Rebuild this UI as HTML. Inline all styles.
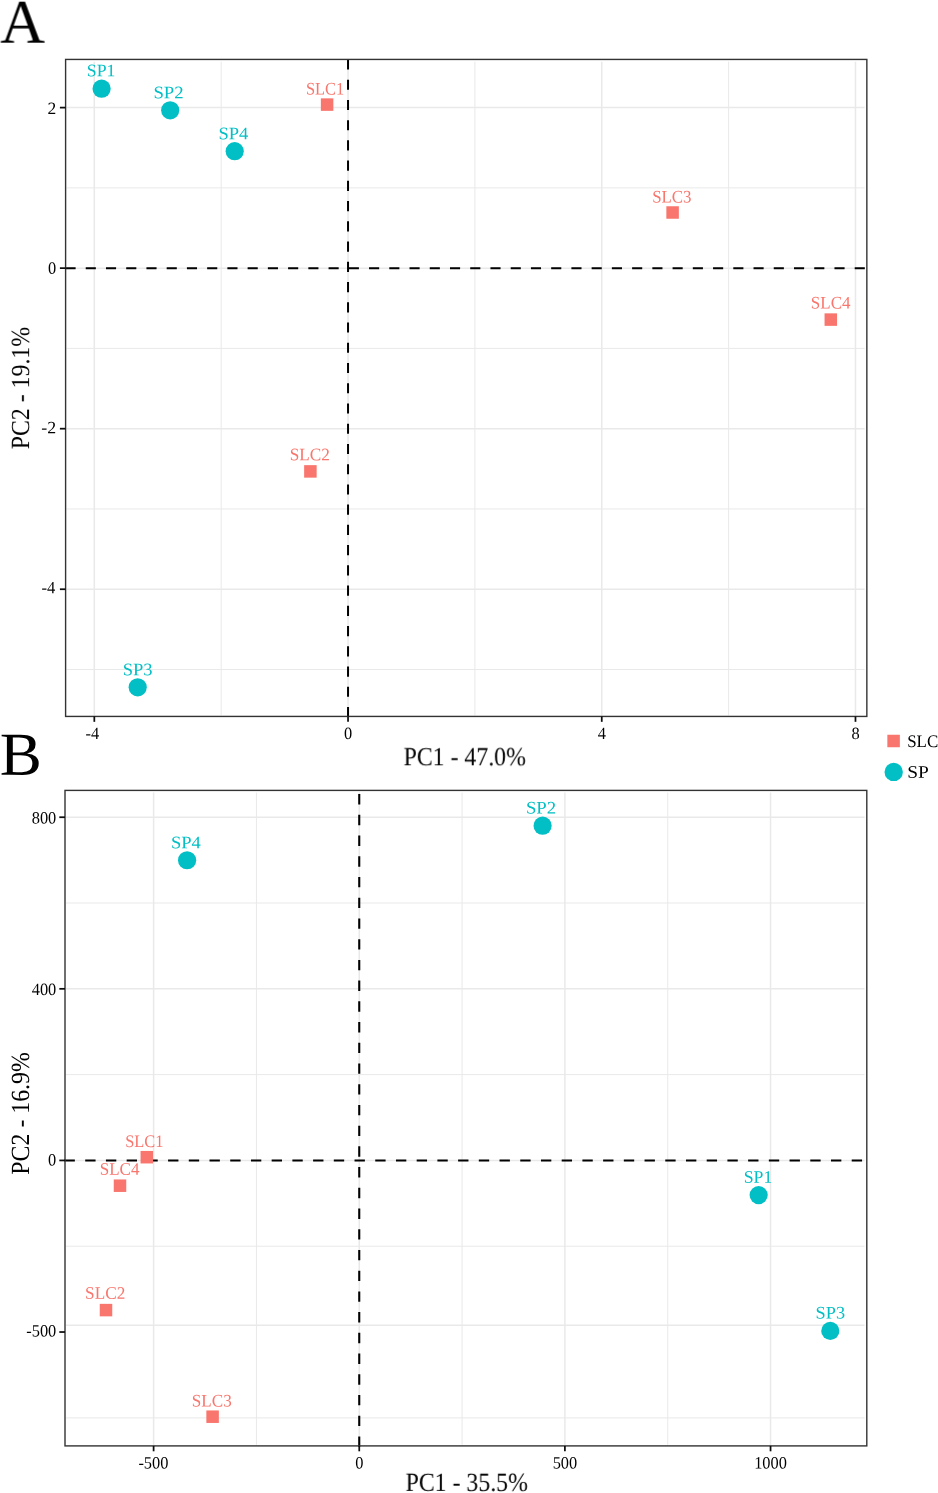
<!DOCTYPE html>
<html lang="en"><head><meta charset="utf-8"><title>PCA score plots</title>
<style>html,body{margin:0;padding:0;background:#fff}svg{display:block}text{font-family:"Liberation Serif", serif;text-rendering:geometricPrecision}</style></head><body>
<svg width="938" height="1493" viewBox="0 0 938 1493">
<rect width="938" height="1493" fill="#fff"/>
<g opacity="0.999">
<line x1="221.18" x2="221.18" y1="61.63" y2="715.43" stroke="#E9E9E9" stroke-width="1.0"/>
<line x1="474.90" x2="474.90" y1="61.63" y2="715.43" stroke="#E9E9E9" stroke-width="1.0"/>
<line x1="728.62" x2="728.62" y1="61.63" y2="715.43" stroke="#E9E9E9" stroke-width="1.0"/>
<line x1="66.60" x2="864.65" y1="187.88" y2="187.88" stroke="#E9E9E9" stroke-width="1.0"/>
<line x1="66.60" x2="864.65" y1="348.42" y2="348.42" stroke="#E9E9E9" stroke-width="1.0"/>
<line x1="66.60" x2="864.65" y1="508.96" y2="508.96" stroke="#E9E9E9" stroke-width="1.0"/>
<line x1="66.60" x2="864.65" y1="669.50" y2="669.50" stroke="#E9E9E9" stroke-width="1.0"/>
<line x1="94.32" x2="94.32" y1="61.63" y2="715.43" stroke="#E9E9E9" stroke-width="1.5"/>
<line x1="348.04" x2="348.04" y1="61.63" y2="715.43" stroke="#E9E9E9" stroke-width="1.5"/>
<line x1="601.76" x2="601.76" y1="61.63" y2="715.43" stroke="#E9E9E9" stroke-width="1.5"/>
<line x1="855.48" x2="855.48" y1="61.63" y2="715.43" stroke="#E9E9E9" stroke-width="1.5"/>
<line x1="66.60" x2="864.65" y1="107.61" y2="107.61" stroke="#E9E9E9" stroke-width="1.5"/>
<line x1="66.60" x2="864.65" y1="268.15" y2="268.15" stroke="#E9E9E9" stroke-width="1.5"/>
<line x1="66.60" x2="864.65" y1="428.69" y2="428.69" stroke="#E9E9E9" stroke-width="1.5"/>
<line x1="66.60" x2="864.65" y1="589.23" y2="589.23" stroke="#E9E9E9" stroke-width="1.5"/>
<path d="M65.50 268.15H866.85" stroke="#000" stroke-width="2" stroke-dasharray="10.118 10.118" fill="none"/>
<path d="M348.04 59.43V716.43" stroke="#000" stroke-width="2" stroke-dasharray="10.118 10.118" fill="none"/>
<rect x="65.60" y="59.43" width="801.25" height="657.00" fill="none" stroke="#333333" stroke-width="1.4"/>
<line x1="59.90" x2="65.60" y1="107.61" y2="107.61" stroke="#0d0d0d" stroke-width="1.75"/>
<text transform="translate(56.15 114.00) rotate(0.03) scale(1.010 1)" font-size="17.30" fill="#000" text-anchor="end">2</text>
<line x1="59.90" x2="65.60" y1="268.15" y2="268.15" stroke="#0d0d0d" stroke-width="1.75"/>
<text transform="translate(56.30 273.85) rotate(0.03) scale(0.947 1)" font-size="17.30" fill="#000" text-anchor="end">0</text>
<line x1="59.90" x2="65.60" y1="428.69" y2="428.69" stroke="#0d0d0d" stroke-width="1.75"/>
<text transform="translate(56.05 433.20) rotate(0.03) scale(1.030 1)" font-size="17.30" fill="#000" text-anchor="end">-2</text>
<line x1="59.90" x2="65.60" y1="589.23" y2="589.23" stroke="#0d0d0d" stroke-width="1.75"/>
<text transform="translate(55.30 593.30) rotate(0.03) scale(0.957 1)" font-size="17.30" fill="#000" text-anchor="end">-4</text>
<line x1="94.32" x2="94.32" y1="716.43" y2="721.83" stroke="#0d0d0d" stroke-width="1.75"/>
<text transform="translate(92.32 738.90) rotate(0.03) scale(0.947 1)" font-size="17.30" fill="#000" text-anchor="middle">-4</text>
<line x1="348.04" x2="348.04" y1="716.43" y2="721.83" stroke="#0d0d0d" stroke-width="1.75"/>
<text transform="translate(348.04 738.90) rotate(0.03) scale(0.947 1)" font-size="17.30" fill="#000" text-anchor="middle">0</text>
<line x1="601.76" x2="601.76" y1="716.43" y2="721.83" stroke="#0d0d0d" stroke-width="1.75"/>
<text transform="translate(601.76 738.90) rotate(0.03) scale(0.947 1)" font-size="17.30" fill="#000" text-anchor="middle">4</text>
<line x1="855.48" x2="855.48" y1="716.43" y2="721.83" stroke="#0d0d0d" stroke-width="1.75"/>
<text transform="translate(855.48 738.90) rotate(0.03) scale(0.947 1)" font-size="17.30" fill="#000" text-anchor="middle">8</text>
<circle cx="101.60" cy="88.70" r="9.10" fill="#00BFC4"/>
<text transform="translate(101.12 76.20) rotate(0.03) scale(1.008 1)" font-size="17.60" fill="#00BFC4" text-anchor="middle">SP1</text>
<circle cx="170.20" cy="110.30" r="9.10" fill="#00BFC4"/>
<text transform="translate(168.51 98.20) rotate(0.03) scale(1.065 1)" font-size="17.60" fill="#00BFC4" text-anchor="middle">SP2</text>
<circle cx="234.70" cy="151.20" r="9.10" fill="#00BFC4"/>
<text transform="translate(233.44 139.20) rotate(0.03) scale(1.053 1)" font-size="17.60" fill="#00BFC4" text-anchor="middle">SP4</text>
<circle cx="137.70" cy="687.30" r="9.10" fill="#00BFC4"/>
<text transform="translate(137.70 675.20) rotate(0.03) scale(1.054 1)" font-size="17.60" fill="#00BFC4" text-anchor="middle">SP3</text>
<rect x="320.85" y="98.35" width="12.50" height="12.50" fill="#F8766D"/>
<text transform="translate(325.12 94.50) rotate(0.03) scale(0.934 1)" font-size="17.60" fill="#F8766D" text-anchor="middle">SLC1</text>
<rect x="304.15" y="465.15" width="12.50" height="12.50" fill="#F8766D"/>
<text transform="translate(309.76 460.20) rotate(0.03) scale(0.979 1)" font-size="17.60" fill="#F8766D" text-anchor="middle">SLC2</text>
<rect x="666.35" y="206.25" width="12.50" height="12.50" fill="#F8766D"/>
<text transform="translate(671.84 202.40) rotate(0.03) scale(0.960 1)" font-size="17.60" fill="#F8766D" text-anchor="middle">SLC3</text>
<rect x="824.55" y="313.35" width="12.50" height="12.50" fill="#F8766D"/>
<text transform="translate(830.68 308.50) rotate(0.03) scale(0.967 1)" font-size="17.60" fill="#F8766D" text-anchor="middle">SLC4</text>
<text transform="translate(464.70 765.30) rotate(0.03) scale(0.910 1)" font-size="26.20" fill="#000" text-anchor="middle">PC1 - 47.0%</text>
<text transform="translate(29.10 388.10) rotate(-89.97) scale(0.910 1)" font-size="26.20" fill="#000" text-anchor="middle">PC2 - 19.1%</text>
<text transform="translate(22.60 42.70) rotate(0.03) scale(1.000 1)" font-size="62.30" fill="#000" text-anchor="middle">A</text>
<rect x="887.35" y="734.75" width="12.50" height="12.50" fill="#F8766D"/>
<text transform="translate(907.20 747.10) rotate(0.03) scale(0.962 1)" font-size="17.60" fill="#000" text-anchor="start">SLC</text>
<circle cx="893.70" cy="771.90" r="9.20" fill="#00BFC4"/>
<text transform="translate(907.20 777.80) rotate(0.03) scale(1.103 1)" font-size="17.60" fill="#000" text-anchor="start">SP</text>
<line x1="256.43" x2="256.43" y1="792.60" y2="1444.90" stroke="#E9E9E9" stroke-width="1.0"/>
<line x1="462.07" x2="462.07" y1="792.60" y2="1444.90" stroke="#E9E9E9" stroke-width="1.0"/>
<line x1="667.73" x2="667.73" y1="792.60" y2="1444.90" stroke="#E9E9E9" stroke-width="1.0"/>
<line x1="66.00" x2="864.60" y1="903.03" y2="903.03" stroke="#E9E9E9" stroke-width="1.0"/>
<line x1="66.00" x2="864.60" y1="1074.63" y2="1074.63" stroke="#E9E9E9" stroke-width="1.0"/>
<line x1="66.00" x2="864.60" y1="1246.23" y2="1246.23" stroke="#E9E9E9" stroke-width="1.0"/>
<line x1="66.00" x2="864.60" y1="1417.90" y2="1417.90" stroke="#E9E9E9" stroke-width="1.0"/>
<line x1="153.60" x2="153.60" y1="792.60" y2="1444.90" stroke="#E9E9E9" stroke-width="1.5"/>
<line x1="359.25" x2="359.25" y1="792.60" y2="1444.90" stroke="#E9E9E9" stroke-width="1.5"/>
<line x1="564.90" x2="564.90" y1="792.60" y2="1444.90" stroke="#E9E9E9" stroke-width="1.5"/>
<line x1="770.55" x2="770.55" y1="792.60" y2="1444.90" stroke="#E9E9E9" stroke-width="1.5"/>
<line x1="66.00" x2="864.60" y1="817.23" y2="817.23" stroke="#E9E9E9" stroke-width="1.5"/>
<line x1="66.00" x2="864.60" y1="988.83" y2="988.83" stroke="#E9E9E9" stroke-width="1.5"/>
<line x1="66.00" x2="864.60" y1="1160.43" y2="1160.43" stroke="#E9E9E9" stroke-width="1.5"/>
<line x1="66.00" x2="864.60" y1="1325.20" y2="1325.20" stroke="#E9E9E9" stroke-width="1.5"/>
<path d="M64.50 1160.50H866.80" stroke="#000" stroke-width="2.1" stroke-dasharray="10.358 10.358" fill="none"/>
<path d="M359.25 1446.80V790.40" stroke="#000" stroke-width="2.1" stroke-dasharray="10.36 10.36" fill="none"/>
<rect x="65.00" y="790.40" width="801.80" height="655.50" fill="none" stroke="#333333" stroke-width="1.4"/>
<line x1="59.30" x2="65.00" y1="817.23" y2="817.23" stroke="#0d0d0d" stroke-width="1.75"/>
<text transform="translate(56.30 823.40) rotate(0.03) scale(0.947 1)" font-size="17.30" fill="#000" text-anchor="end">800</text>
<line x1="59.30" x2="65.00" y1="988.83" y2="988.83" stroke="#0d0d0d" stroke-width="1.75"/>
<text transform="translate(56.30 994.95) rotate(0.03) scale(0.947 1)" font-size="17.30" fill="#000" text-anchor="end">400</text>
<line x1="59.30" x2="65.00" y1="1160.43" y2="1160.43" stroke="#0d0d0d" stroke-width="1.75"/>
<text transform="translate(56.30 1165.60) rotate(0.03) scale(0.947 1)" font-size="17.30" fill="#000" text-anchor="end">0</text>
<line x1="59.30" x2="65.00" y1="1332.03" y2="1332.03" stroke="#0d0d0d" stroke-width="1.75"/>
<text transform="translate(56.30 1336.60) rotate(0.03) scale(0.947 1)" font-size="17.30" fill="#000" text-anchor="end">-500</text>
<line x1="153.60" x2="153.60" y1="1445.90" y2="1451.30" stroke="#0d0d0d" stroke-width="1.75"/>
<text transform="translate(153.40 1468.60) rotate(0.03) scale(0.947 1)" font-size="17.30" fill="#000" text-anchor="middle">-500</text>
<line x1="359.25" x2="359.25" y1="1445.90" y2="1451.30" stroke="#0d0d0d" stroke-width="1.75"/>
<text transform="translate(359.25 1468.60) rotate(0.03) scale(0.947 1)" font-size="17.30" fill="#000" text-anchor="middle">0</text>
<line x1="564.90" x2="564.90" y1="1445.90" y2="1451.30" stroke="#0d0d0d" stroke-width="1.75"/>
<text transform="translate(564.90 1468.60) rotate(0.03) scale(0.947 1)" font-size="17.30" fill="#000" text-anchor="middle">500</text>
<line x1="770.55" x2="770.55" y1="1445.90" y2="1451.30" stroke="#0d0d0d" stroke-width="1.75"/>
<text transform="translate(770.55 1468.60) rotate(0.03) scale(0.947 1)" font-size="17.30" fill="#000" text-anchor="middle">1000</text>
<circle cx="187.10" cy="860.25" r="9.10" fill="#00BFC4"/>
<text transform="translate(185.92 848.20) rotate(0.03) scale(1.053 1)" font-size="17.60" fill="#00BFC4" text-anchor="middle">SP4</text>
<circle cx="542.60" cy="825.70" r="9.10" fill="#00BFC4"/>
<text transform="translate(541.01 813.50) rotate(0.03) scale(1.065 1)" font-size="17.60" fill="#00BFC4" text-anchor="middle">SP2</text>
<circle cx="758.65" cy="1195.10" r="9.10" fill="#00BFC4"/>
<text transform="translate(758.06 1182.70) rotate(0.03) scale(1.008 1)" font-size="17.60" fill="#00BFC4" text-anchor="middle">SP1</text>
<circle cx="830.30" cy="1330.90" r="9.10" fill="#00BFC4"/>
<text transform="translate(830.31 1318.60) rotate(0.03) scale(1.036 1)" font-size="17.60" fill="#00BFC4" text-anchor="middle">SP3</text>
<rect x="140.55" y="1150.95" width="12.50" height="12.50" fill="#F8766D"/>
<text transform="translate(144.32 1147.00) rotate(0.03) scale(0.934 1)" font-size="17.60" fill="#F8766D" text-anchor="middle">SLC1</text>
<rect x="113.75" y="1179.45" width="12.50" height="12.50" fill="#F8766D"/>
<text transform="translate(119.59 1174.70) rotate(0.03) scale(0.968 1)" font-size="17.60" fill="#F8766D" text-anchor="middle">SLC4</text>
<rect x="99.75" y="1303.85" width="12.50" height="12.50" fill="#F8766D"/>
<text transform="translate(105.20 1298.70) rotate(0.03) scale(0.979 1)" font-size="17.60" fill="#F8766D" text-anchor="middle">SLC2</text>
<rect x="206.35" y="1410.45" width="12.50" height="12.50" fill="#F8766D"/>
<text transform="translate(211.81 1406.55) rotate(0.03) scale(0.973 1)" font-size="17.60" fill="#F8766D" text-anchor="middle">SLC3</text>
<text transform="translate(466.70 1490.90) rotate(0.03) scale(0.910 1)" font-size="26.20" fill="#000" text-anchor="middle">PC1 - 35.5%</text>
<text transform="translate(29.10 1113.40) rotate(-89.97) scale(0.910 1)" font-size="26.20" fill="#000" text-anchor="middle">PC2 - 16.9%</text>
<text transform="translate(20.70 774.70) rotate(0.03) scale(1.030 1)" font-size="61.20" fill="#000" text-anchor="middle">B</text>
</g>
</svg></body></html>
